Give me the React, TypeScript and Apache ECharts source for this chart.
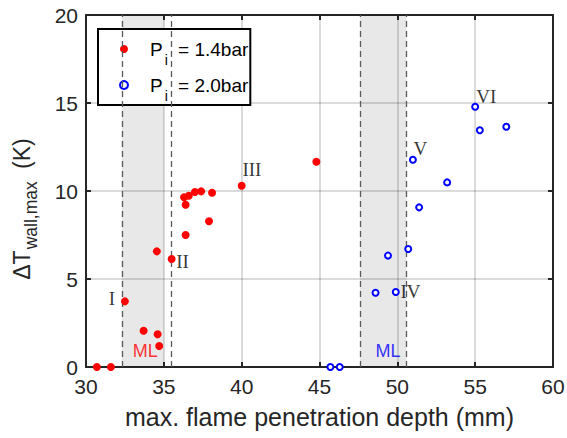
import React, { useEffect, useRef } from "react";
import * as echarts from "echarts";

const xTicks = [30, 35, 40, 45, 50, 55, 60];
const yTicks = [0, 5, 10, 15, 20];

const redName = "1.4bar";
const blueName = "2.0bar";

const redX = [30.7, 31.6, 32.5, 33.7, 34.6, 34.7, 34.55, 35.5, 36.4, 37.9, 36.4, 36.3, 36.6, 37.0, 37.4, 38.1, 40.0, 44.8];
const redY = [0, 0, 3.73, 2.06, 1.86, 1.19, 6.57, 6.14, 7.5, 8.28, 9.22, 9.64, 9.73, 9.94, 9.98, 9.9, 10.3, 11.66];

const blueX = [45.7, 46.3, 48.6, 49.9, 49.4, 50.7, 51.4, 53.2, 51.0, 55.0, 55.3, 57.0];
const blueY = [0, 0, 4.22, 4.26, 6.33, 6.7, 9.07, 10.49, 11.78, 14.79, 13.45, 13.65];

const noteLabels = ["I", "II", "III", "IV", "V", "VI"];
const noteX = [31.66, 36.2, 40.66, 50.85, 51.48, 55.72];
const noteY = [3.9, 5.98, 11.23, 4.28, 12.43, 15.36];

const mlLabels = ["ML", "ML"];
const mlX = [33.8, 49.4];
const mlY = [0.9, 0.93];

const shadeFrom = [32.3, 47.6];
const shadeTo = [35.0, 50.6];
const dashA = [32.3, 47.6];
const dashB = [35.5, 50.6];

const SANS = "Liberation Sans, Arial, sans-serif";
const SERIF = "Liberation Serif, Times New Roman, serif";
const INK = "#262626";
const mlColors = ["#ff0000", "#0000ff"];

export default function App() {
  const ref = useRef<HTMLDivElement>(null);
  useEffect(() => {
    document.body.style.margin = "0";
    const chart = echarts.init(ref.current!, null, { renderer: "svg" });
    const axisCommon = {
      type: "value" as const,
      axisLine: { show: true, onZero: false, lineStyle: { color: INK, width: 2 } },
      axisTick: { show: true, inside: true, length: 5, lineStyle: { color: INK, width: 2 } },
    };
    const option: any = {
      animation: false,
      backgroundColor: "#ffffff",
      grid: { left: 86, right: 14, top: 15, bottom: 71, containLabel: false, outerBoundsMode: "none" },
      legend: {
        show: true,
        left: 98,
        top: 29,
        orient: "vertical",
        backgroundColor: "#ffffff",
        borderColor: "#000000",
        borderWidth: 2,
        borderRadius: 0,
        padding: [2, 2, 2, 21],
        itemGap: 0,
        itemWidth: 8,
        itemHeight: 8,
        data: [
          { name: redName, icon: "circle" },
          { name: blueName, icon: "circle" },
        ],
        formatter: (name: string) => `{g|}{m|P}{s|i}{m| = ${name}}`,
        textStyle: {
          rich: {
            g: { width: 17, height: 10 },
            m: { fontFamily: SANS, fontSize: 19, color: "#000", lineHeight: 22 },
            s: { fontFamily: SANS, fontSize: 14, color: "#000", lineHeight: 14, padding: [22, 5, 0, 2] },
          },
        },
      },
      xAxis: [
        {
          ...axisCommon,
          position: "bottom",
          min: 30,
          max: 60,
          interval: 5,
          name: "max. flame penetration depth (mm)",
          nameLocation: "middle",
          nameGap: 37,
          nameTextStyle: { fontFamily: SANS, fontSize: 25, color: INK },
          axisLabel: { show: true, margin: 9, fontFamily: SANS, fontSize: 21, color: INK },
          splitLine: { show: true, lineStyle: { color: "rgba(0,0,0,0.14)", width: 2 } },
        },
        {
          ...axisCommon,
          position: "top",
          min: 30,
          max: 60,
          interval: 5,
          axisLabel: { show: false },
          splitLine: { show: false },
        },
      ],
      yAxis: [
        {
          ...axisCommon,
          position: "left",
          min: 0,
          max: 20,
          interval: 5,
          name: "{m|ΔT}{s|wall,max}{m| (K)}{e|}",
          nameLocation: "middle",
          nameGap: 52,
          nameRotate: 90,
          nameTextStyle: {
            rich: {
              m: { fontFamily: SANS, fontSize: 23, color: INK, lineHeight: 24 },
              s: { fontFamily: SANS, fontSize: 17.5, color: INK, lineHeight: 17, padding: [18, 6, 0, 1] },
              e: { width: 36, height: 10 },
            },
          },
          axisLabel: { show: true, margin: 8, fontFamily: SANS, fontSize: 21, color: INK },
          splitLine: { show: true, lineStyle: { color: "rgba(0,0,0,0.14)", width: 2 } },
        },
        {
          ...axisCommon,
          position: "right",
          min: 0,
          max: 20,
          interval: 5,
          axisLabel: { show: false },
          splitLine: { show: false },
        },
      ],
      series: [
        {
          name: "regions",
          type: "scatter",
          data: [],
          silent: true,
          markArea: {
            silent: true,
            itemStyle: { color: "rgba(0,0,0,0.09)" },
            data: shadeFrom.map((a, i) => [{ xAxis: a, yAxis: 0 }, { xAxis: shadeTo[i], yAxis: 20 }]),
          },
          markLine: {
            silent: true,
            symbol: ["none", "none"],
            label: { show: false },
            lineStyle: { color: "#5a5a5a", type: [6, 4], width: 1.3 },
            data: [...dashA, ...dashB].map((v) => [{ coord: [v, 0] }, { coord: [v, 20] }]),
          },
        },
        {
          name: redName,
          type: "scatter",
          symbol: "circle",
          symbolSize: 8,
          itemStyle: { color: "#ff0000", opacity: 1 },
          data: redX.map((x, i) => [x, redY[i]]),
          z: 5,
        },
        {
          name: blueName,
          type: "scatter",
          symbol: "circle",
          symbolSize: 6,
          itemStyle: { color: "#ffffff", borderColor: "#0000ff", borderWidth: 2, opacity: 1 },
          data: blueX.map((x, i) => [x, blueY[i]]),
          z: 5,
        },
        {
          name: "notes",
          type: "scatter",
          symbolSize: 0,
          silent: true,
          data: noteLabels.map((t, i) => [noteX[i], noteY[i], t]),
          label: {
            show: true,
            position: "inside",
            formatter: (p: any) => p.value[2],
            fontFamily: SERIF,
            fontSize: 19,
            color: "#000",
          },
          z: 6,
        },
        {
          name: "ml",
          type: "scatter",
          symbolSize: 0,
          silent: true,
          data: mlLabels.map((t, i) => ({
            value: [mlX[i], mlY[i], t],
            label: { color: mlColors[i] },
          })),
          label: {
            show: true,
            position: "inside",
            formatter: (p: any) => p.value[2],
            fontFamily: SANS,
            fontSize: 18,
          },
          z: 6,
        },
      ],
    };
    chart.setOption(option);
    return () => chart.dispose();
  }, []);
  return <div ref={ref} style={{ width: 567, height: 438 }} />;
}
